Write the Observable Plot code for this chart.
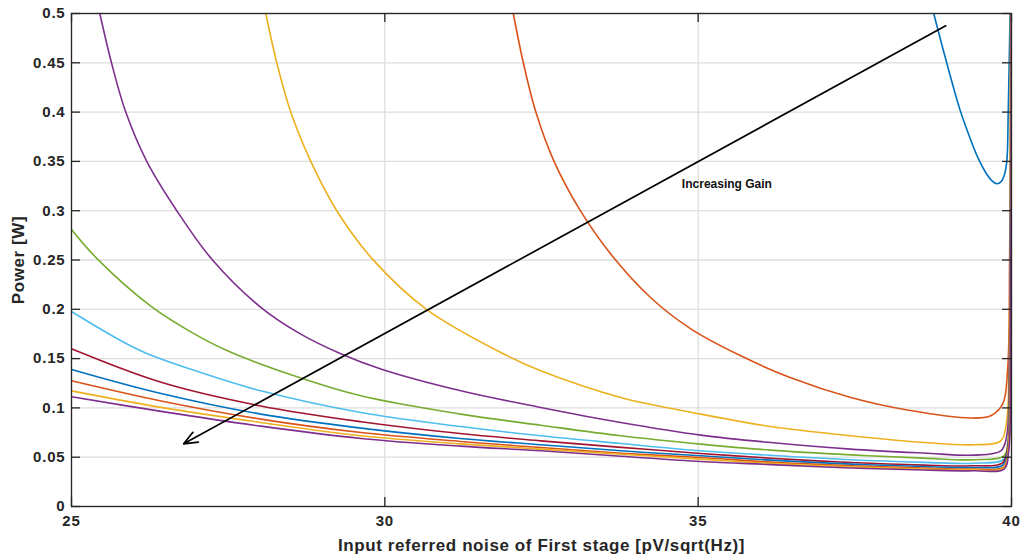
<!DOCTYPE html>
<html><head><meta charset="utf-8">
<script src="https://cdn.jsdelivr.net/npm/d3@7"></script>
<script src="https://cdn.jsdelivr.net/npm/@observablehq/plot@0.6"></script>
<style>body{margin:0;background:#fff} svg{display:block}</style>
</head><body><div id="chart"></div>
<script>
// ---- data (x: input referred noise, y: power) ----
const gain1 = [[38.759,0.5],[38.966,0.45],[39.19,0.4],[39.36,0.37],[39.477,0.352],[39.605,0.337],[39.685,0.3305],[39.765,0.3273],[39.835,0.3295],[39.885,0.336],[39.925,0.35],[39.948,0.4],[39.977,0.5]];
const gain2 = [[32.05,0.5],[32.21,0.45],[32.41,0.4],[32.70,0.35],[33.12,0.3],[33.63,0.254],[34.244,0.2117],[34.882,0.1802],[35.68,0.1528],[36.478,0.1305],[37.436,0.1105],[38.34,0.0978],[39.35,0.0897],[39.67,0.092],[39.86,0.104],[39.94,0.141],[39.97,0.25],[39.985,0.43],[39.99,0.5]];
const gain3 = [[28.10,0.5],[28.276,0.45],[28.499,0.4],[28.818,0.35],[29.233,0.3],[29.803,0.2509],[30.681,0.1992],[31.957,0.1528],[32.488,0.1376],[33.764,0.1105],[35.04,0.0937],[36.157,0.0811],[37.434,0.0717],[38.604,0.0649],[39.402,0.0626],[39.83,0.0666],[39.92,0.085],[39.96,0.15],[39.985,0.5]];
const gain4 = [[25.452,0.5],[25.638,0.45],[25.866,0.4],[26.201,0.35],[26.68,0.3],[27.25,0.25],[28.021,0.202],[28.659,0.1748],[29.297,0.1549],[29.935,0.1394],[31.211,0.1173],[32.488,0.1004],[33.764,0.0852],[35.04,0.0724],[36.157,0.0649],[37.434,0.0582],[38.604,0.0542],[39.402,0.0521],[39.83,0.0565],[39.92,0.07],[39.965,0.15],[39.99,0.5]];
const gain5 = [[25.0,0.2809],[25.415,0.2509],[26.265,0.2032],[26.904,0.1771],[27.489,0.1579],[28.552,0.1326],[29.616,0.1123],[31.211,0.0937],[32.488,0.0824],[33.764,0.0717],[35.04,0.0633],[36.157,0.0572],[37.434,0.0524],[38.604,0.0491],[39.402,0.0474],[39.88,0.0514],[39.94,0.065],[39.97,0.15],[39.99,0.5]];
const gain6 = [[25.0,0.1978],[26.106,0.1579],[27.063,0.1359],[28.021,0.1173],[29.616,0.0953],[31.211,0.0811],[32.488,0.0717],[33.764,0.0639],[35.04,0.0565],[36.157,0.0519],[37.434,0.0474],[38.604,0.0448],[39.402,0.0438],[39.88,0.048],[39.95,0.065],[39.975,0.15],[39.99,0.5]];
const gain7 = [[25.0,0.160],[26.43,0.126],[28.02,0.102],[29.62,0.086],[31.2,0.074],[32.49,0.0666],[33.77,0.060],[35.04,0.0538],[36.16,0.049],[37.44,0.0446],[38.60,0.042],[39.40,0.0413],[39.85,0.044],[39.94,0.06],[39.975,0.15],[39.99,0.5]];
const gain8 = [[25.0,0.139],[26.43,0.1146],[28.02,0.0937],[29.62,0.0795],[31.2,0.069],[32.49,0.0626],[33.77,0.0565],[35.04,0.0514],[36.16,0.047],[37.44,0.043],[38.60,0.0405],[39.40,0.0396],[39.86,0.042],[39.945,0.06],[39.978,0.15],[39.99,0.5]];
const gain9 = [[25.0,0.1275],[26.43,0.107],[28.02,0.0886],[29.62,0.075],[31.2,0.066],[32.49,0.0598],[33.77,0.054],[35.04,0.0497],[36.16,0.045],[37.44,0.0413],[38.60,0.039],[39.40,0.038],[39.87,0.040],[39.95,0.06],[39.98,0.15],[39.992,0.5]];
const gain10 = [[25.0,0.1173],[26.43,0.1005],[28.02,0.0852],[29.62,0.0717],[31.2,0.0635],[32.49,0.0582],[33.77,0.053],[35.04,0.048],[36.16,0.0437],[37.44,0.0403],[38.60,0.038],[39.40,0.0372],[39.87,0.039],[39.95,0.058],[39.98,0.15],[39.993,0.5]];
const gain11 = [[25.0,0.1113],[26.43,0.0965],[28.02,0.0815],[29.62,0.069],[31.2,0.0612],[32.49,0.0565],[33.77,0.051],[35.04,0.0456],[36.16,0.0425],[37.44,0.039],[38.60,0.037],[39.40,0.0362],[39.88,0.038],[39.955,0.056],[39.982,0.15],[39.995,0.5]];
const seriesList = [gain1, gain2, gain3, gain4, gain5, gain6, gain7, gain8, gain9, gain10, gain11];
const seriesColors = ["#0072BD","#D95319","#EDB120","#7E2F8E","#77AC30","#4DBEEE","#A2142F","#0072BD","#D95319","#EDB120","#7E2F8E"];

const xTicks = [25, 30, 35, 40];
const xTickLabels = ["25", "30", "35", "40"];
const yTicks = [0, 0.05, 0.1, 0.15, 0.2, 0.25, 0.3, 0.35, 0.4, 0.45, 0.5];
const yTickLabels = ["0", "0.05", "0.1", "0.15", "0.2", "0.25", "0.3", "0.35", "0.4", "0.45", "0.5"];
const xLabel = "Input referred noise of First stage [pV/sqrt(Hz)]";
const yLabel = "Power [W]";
const annotation = "Increasing Gain";
const annotationPos = [34.74, 0.327];
const arrowTail = [38.95, 0.4875];
const arrowHead = [26.79, 0.0636];

// ---- layout ----
const W = 1023, H = 559, mL = 71, mR = 12, mT = 13, mB = 53;
const fw = W - mL - mR, fh = H - mT - mB, tl = 9;
const ink = "#262626";
const tickStyle = {stroke: ink, strokeWidth: 1.3};

const marks = [
  Plot.gridX(xTicks, {stroke: "#dedede", strokeOpacity: 1, strokeWidth: 1.3}),
  Plot.gridY(yTicks, {stroke: "#dedede", strokeOpacity: 1, strokeWidth: 1.3}),
  ...seriesList.map((s, i) => Plot.line(s, {x: d => d[0], y: d => d[1], stroke: seriesColors[i], strokeWidth: 1.6, curve: "catmull-rom", clip: true})),
  Plot.arrow([{a: arrowTail, b: arrowHead}], {x1: d => d.a[0], y1: d => d.a[1], x2: d => d.b[0], y2: d => d.b[1], bend: 0, headLength: 13, headAngle: 45, stroke: "black", strokeWidth: 1.7}),
  Plot.text([annotation], {x: () => annotationPos[0], y: () => annotationPos[1], text: d => d, textAnchor: "start", fontWeight: "bold", fontSize: 12, fill: "#111"}),
  Plot.frame({stroke: ink, strokeWidth: 1.3}),
  // inward ticks on all four sides
  Plot.ruleY(yTicks, {y: d => d, insetRight: fw - tl, ...tickStyle}),
  Plot.ruleY(yTicks, {y: d => d, insetLeft: fw - tl, ...tickStyle}),
  Plot.ruleX(xTicks, {x: d => d, insetTop: fh - tl, ...tickStyle}),
  Plot.ruleX(xTicks, {x: d => d, insetBottom: fh - tl, ...tickStyle}),
  Plot.axisX(xTicks, {tickSize: 0, tickPadding: 9, tickFormat: (d, i) => xTickLabels[i], fontSize: 15, fontWeight: "bold", fill: ink, label: null}),
  Plot.axisY(yTicks, {tickSize: 0, tickPadding: 6, tickFormat: (d, i) => yTickLabels[i], fontSize: 15, fontWeight: "bold", fill: ink, label: null}),
  Plot.text([xLabel], {frameAnchor: "bottom", dy: 39, lineAnchor: "middle", textAnchor: "middle", text: d => d, fontSize: 17, fontWeight: "bold", fill: ink}),
  Plot.text([yLabel], {frameAnchor: "left", dx: -53, rotate: -90, textAnchor: "middle", lineAnchor: "middle", text: d => d, fontSize: 17, fontWeight: "bold", fill: ink})
];

const chart = Plot.plot({
  width: W, height: H,
  marginLeft: mL, marginRight: mR, marginTop: mT, marginBottom: mB,
  x: {domain: [25, 40]},
  y: {domain: [0, 0.5]},
  style: {fontFamily: "'Liberation Sans', Arial, sans-serif", background: "#fff"},
  marks
});
// widen text spacing slightly to match the reference's wide lettering
chart.querySelectorAll('g[aria-label="x-axis tick label"] text, g[aria-label="y-axis tick label"] text').forEach(t => t.style.letterSpacing = "0.8px");
chart.querySelectorAll("text").forEach(t => {
  if (t.textContent === xLabel || t.textContent === yLabel) t.style.letterSpacing = "0.6px";
});
document.getElementById("chart").appendChild(chart);
</script></body></html>
